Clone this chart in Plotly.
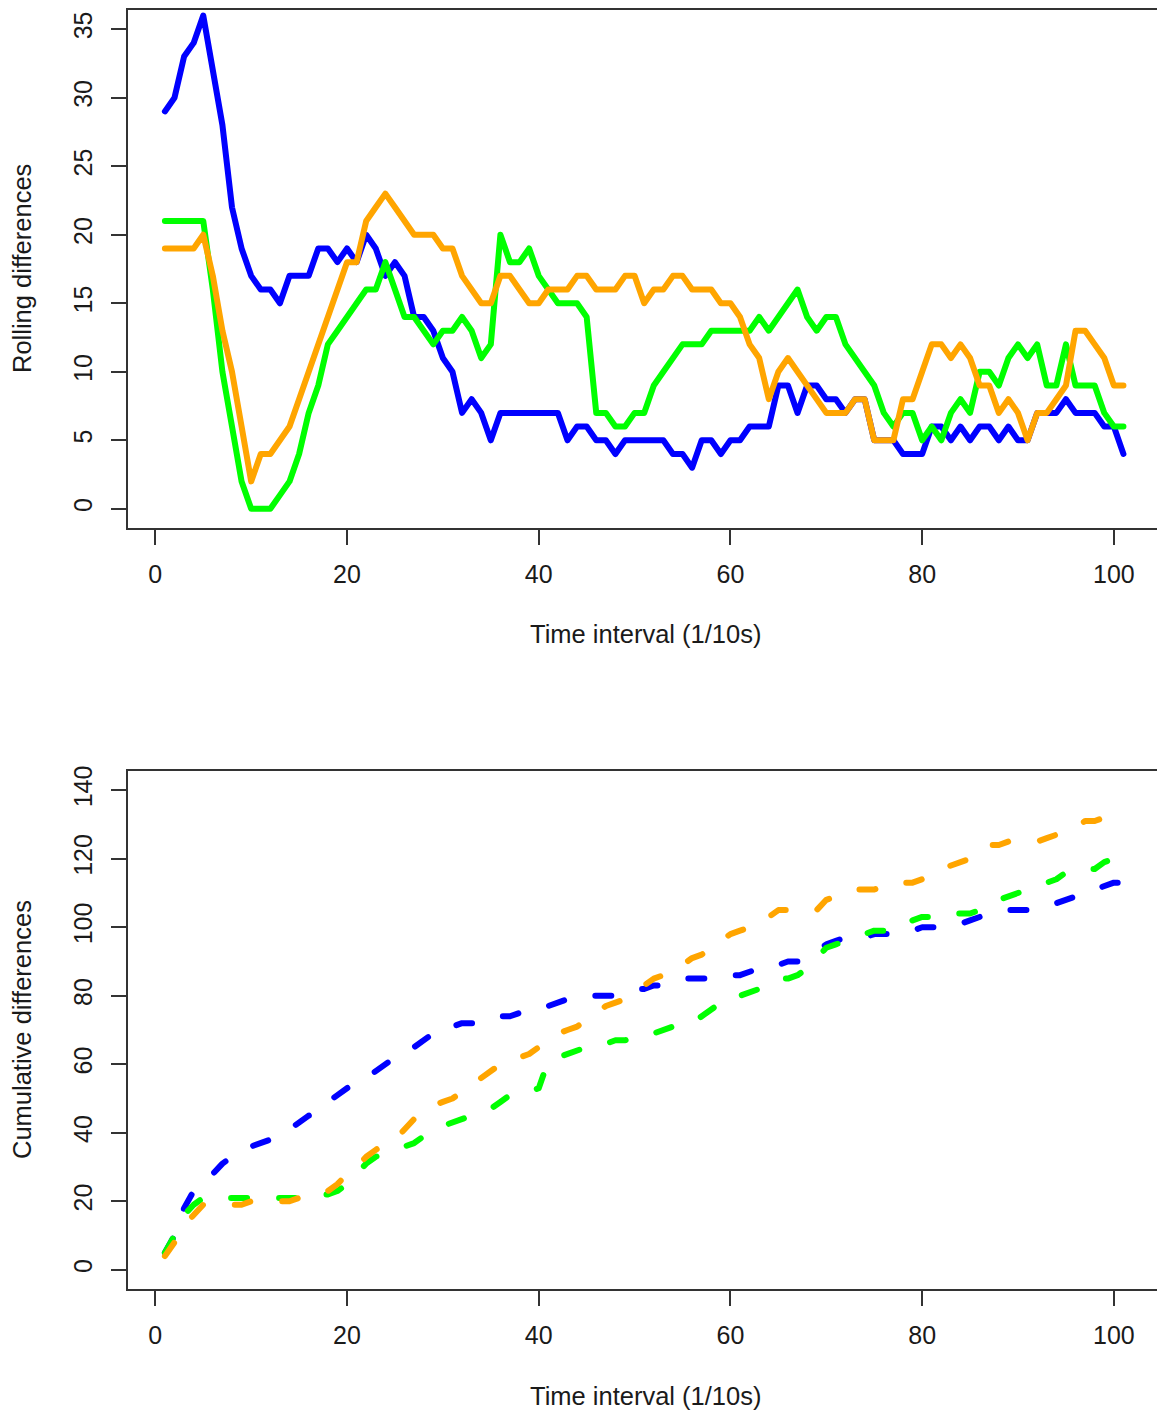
import plotly.graph_objects as go

# ---------------- data ----------------
t = list(range(1, 102))

blue_roll = [29, 30, 33, 34, 36, 32, 28, 22, 19, 17,
             16, 16, 15, 17, 17, 17, 19, 19, 18, 19,
             18, 20, 19, 17, 18, 17, 14, 14, 13, 11,
             10, 7, 8, 7, 5, 7, 7, 7, 7, 7,
             7, 7, 5, 6, 6, 5, 5, 4, 5, 5,
             5, 5, 5, 4, 4, 3, 5, 5, 4, 5,
             5, 6, 6, 6, 9, 9, 7, 9, 9, 8,
             8, 7, 8, 8, 5, 5, 5, 4, 4, 4,
             6, 6, 5, 6, 5, 6, 6, 5, 6, 5,
             5, 7, 7, 7, 8, 7, 7, 7, 6, 6,
             4]
green_roll = [21, 21, 21, 21, 21, 16, 10, 6, 2, 0,
              0, 0, 1, 2, 4, 7, 9, 12, 13, 14,
              15, 16, 16, 18, 16, 14, 14, 13, 12, 13,
              13, 14, 13, 11, 12, 20, 18, 18, 19, 17,
              16, 15, 15, 15, 14, 7, 7, 6, 6, 7,
              7, 9, 10, 11, 12, 12, 12, 13, 13, 13,
              13, 13, 14, 13, 14, 15, 16, 14, 13, 14,
              14, 12, 11, 10, 9, 7, 6, 7, 7, 5,
              6, 5, 7, 8, 7, 10, 10, 9, 11, 12,
              11, 12, 9, 9, 12, 9, 9, 9, 7, 6,
              6]
orange_roll = [19, 19, 19, 19, 20, 17, 13, 10, 6, 2,
               4, 4, 5, 6, 8, 10, 12, 14, 16, 18,
               18, 21, 22, 23, 22, 21, 20, 20, 20, 19,
               19, 17, 16, 15, 15, 17, 17, 16, 15, 15,
               16, 16, 16, 17, 17, 16, 16, 16, 17, 17,
               15, 16, 16, 17, 17, 16, 16, 16, 15, 15,
               14, 12, 11, 8, 10, 11, 10, 9, 8, 7,
               7, 7, 8, 8, 5, 5, 5, 8, 8, 10,
               12, 12, 11, 12, 11, 9, 9, 7, 8, 7,
               5, 7, 7, 8, 9, 13, 13, 12, 11, 9,
               9]

blue_cum = [5, 10, 18, 23, 25, 28, 31, 33, 35, 36,
            37, 38, 39, 41, 43, 45, 46, 49, 51, 53,
            55, 56, 58, 60, 62, 63, 65, 67, 69, 71,
            71, 72, 72, 72, 73, 74, 74, 75, 75, 76,
            77, 78, 79, 79, 80, 80, 80, 80, 81, 82,
            82, 83, 83, 84, 85, 85, 85, 85, 85, 86,
            86, 87, 88, 88, 89, 90, 90, 91, 93, 95,
            96, 97, 97, 97, 98, 98, 98, 99, 99, 100,
            100, 100, 101, 101, 102, 103, 104, 104, 105, 105,
            105, 106, 106, 107, 108, 109, 110, 111, 112, 113,
            113]
green_cum = [5, 10, 16, 19, 21, 21, 21, 21, 21, 21,
             21, 21, 21, 21, 21, 21, 22, 22, 23, 25,
             28, 31, 33, 34, 35, 36, 37, 39, 41, 42,
             43, 44, 45, 46, 47, 49, 51, 51, 52, 53,
             61, 62, 63, 64, 65, 65, 66, 67, 67, 68,
             69, 69, 70, 71, 72, 72, 74, 76, 78, 80,
             80, 81, 82, 84, 85, 85, 86, 88, 91, 94,
             95, 96, 97, 98, 99, 99, 100, 100, 102, 103,
             103, 103, 104, 104, 104, 105, 107, 108, 109, 110,
             111, 112, 113, 114, 116, 116, 117, 117, 119, 120,
             120]
orange_cum = [4, 8, 13, 16, 19, 19, 19, 19, 19, 20,
              20, 20, 20, 20, 21, 22, 22, 23, 25, 28,
              30, 33, 35, 37, 38, 41, 44, 46, 48, 49,
              50, 52, 54, 56, 58, 60, 61, 62, 63, 65,
              67, 69, 70, 71, 73, 75, 77, 78, 79, 81,
              83, 85, 86, 88, 89, 91, 92, 94, 96, 98,
              99, 100, 102, 103, 105, 105, 105, 105, 105, 108,
              109, 110, 111, 111, 111, 112, 112, 113, 113, 114,
              115, 117, 118, 119, 120, 122, 124, 124, 125, 125,
              125, 125, 126, 127, 128, 129, 131, 131, 132, 133,
              133]

x_ticks = [0, 20, 40, 60, 80, 100]
y1_ticks = [0, 5, 10, 15, 20, 25, 30, 35]
y2_ticks = [0, 20, 40, 60, 80, 100, 120, 140]

series_colors = ["#0000FF", "#00FF00", "#FFA500"]

# ---------------- figure ----------------
W, H = 1157, 1412
ML, MR, MT, MB = 128, 0, 10, 123
FONT = "Liberation Sans, Arial, Helvetica, sans-serif"
INK = "#1a1a1a"

fig = go.Figure()
for ys, col in zip([blue_roll, green_roll, orange_roll], series_colors):
    fig.add_trace(go.Scatter(x=t, y=ys, mode="lines", xaxis="x", yaxis="y",
                             line=dict(color=col, width=6),
                             showlegend=False, hoverinfo="skip"))
for ys, col in zip([blue_cum, green_cum, orange_cum], series_colors):
    fig.add_trace(go.Scatter(x=t, y=ys, mode="lines", xaxis="x2", yaxis="y2",
                             line=dict(color=col, width=6, dash="16px,32px"),
                             showlegend=False, hoverinfo="skip"))

axis_common = dict(showline=True, linecolor="#333333", linewidth=1.5,
                   ticks="outside", ticklen=15, tickwidth=1.5, tickcolor="#333333",
                   showgrid=False, zeroline=False,
                   tickfont=dict(family=FONT, size=25, color=INK))

fig.update_layout(
    width=W, height=H,
    margin=dict(l=ML, r=MR, t=MT, b=MB, pad=0),
    paper_bgcolor="white", plot_bgcolor="white",
    xaxis=dict(domain=[0, 1], anchor="y", range=[-2.85, 104.5], tickvals=x_ticks,
               mirror=True, ticklabelstandoff=8, **axis_common),
    yaxis=dict(domain=[0.595, 1], anchor="x", range=[-1.4, 36.4], tickvals=y1_ticks,
               tickangle=-90, ticklabelstandoff=9, **axis_common),
    xaxis2=dict(domain=[0, 1], anchor="y2", range=[-2.85, 104.5], tickvals=x_ticks,
                mirror=True, ticklabelstandoff=8, **axis_common),
    yaxis2=dict(domain=[0, 0.405], anchor="x2", range=[-5.6, 145.6], tickvals=y2_ticks,
                tickangle=-90, ticklabelstandoff=9, **axis_common),
)

def px_x(px):
    return (px - ML) / (W - ML - MR)

def px_y(py):
    return (H - MB - py) / (H - MT - MB)

title_font = dict(family=FONT, size=25.5, color=INK)
anns = [
    dict(text="Time interval (1/10s)", x=px_x(645), y=px_y(634), textangle=0),
    dict(text="Time interval (1/10s)", x=px_x(645), y=px_y(1396), textangle=0),
    dict(text="Rolling differences", x=px_x(22), y=px_y(269), textangle=-90),
    dict(text="Cumulative differences", x=px_x(22), y=px_y(1030), textangle=-90),
]
for a in anns:
    fig.add_annotation(xref="paper", yref="paper", showarrow=False,
                       xanchor="center", yanchor="middle", font=title_font, **a)

post = """
document.body.style.margin='0';
document.querySelectorAll('.scatterlayer path.js-line').forEach(function(p){
  p.style.strokeLinejoin='round'; p.style.strokeLinecap='round';
});
"""
fig.write_html("out.html", post_script=post, config={"displayModeBar": False})
